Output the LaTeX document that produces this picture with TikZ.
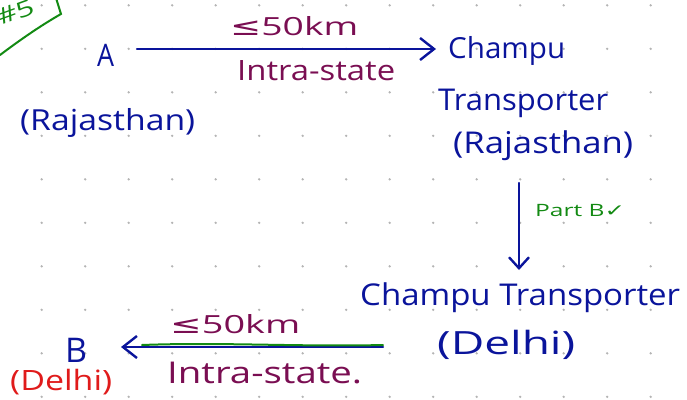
\documentclass[tikz,border=0pt]{standalone}
\usepackage{fontspec}
\setmainfont{Open Sans}
\newfontfamily\symf{DejaVu Sans}
\usetikzlibrary{arrows.meta}
\definecolor{ink}{HTML}{0A149B}
\definecolor{plum}{HTML}{7A0E52}
\definecolor{grn}{HTML}{138A13}
\definecolor{redink}{HTML}{E01B1B}
\definecolor{dotc}{HTML}{B4B4B4}
\newcommand{\hw}[3]{\resizebox{#2pt}{\height}{\fontsize{#1}{#1}\selectfont #3}}
\tikzset{
  lbl/.style={inner sep=0pt, anchor=base west},
  arr/.style={ink, line width=2.4pt, line cap=round, -{Straight Barb[length=14pt,width=22pt,line width=2.4pt]}},
}
\begin{document}
\begin{tikzpicture}[x=1pt,y=-1pt]
\useasboundingbox (0,0) rectangle (687,399);
% dot grid
\foreach \i in {0,...,15} {
  \foreach \j in {0,...,9} {
    \fill[dotc] (41.7+43.5*\i, 5.3+43.5*\j) circle (1.3);
  }
}
% corner tag
\draw[grn, line width=2pt, line cap=round] (0,55) .. controls (20,40) and (40,26) .. (61,14) -- (56,-2);
\node[lbl, grn, rotate=20] (tag) at (0,26) {\hw{22}{38}{\#5}};
% top row
\node[lbl, ink] (A) at (97,66) {\hw{31}{17}{A}};
\node[lbl, ink] (Araj) at (20,130) {\hw{29}{175}{(Rajasthan)}};
\node[lbl, plum] (d1) at (230,35) {\hw{25}{128}{{\symf ≤}50km}};
\node[lbl, plum] (i1) at (237,80) {\hw{28}{158}{Intra-state}};
\node[lbl, ink] (C1) at (448,58) {\hw{29}{117}{Champu}};
\node[lbl, ink] (T1) at (438,110) {\hw{30}{170}{Transporter}};
\node[lbl, ink] (R1) at (453,153) {\hw{30}{180}{(Rajasthan)}};
\coordinate (a1) at (137,49);
\coordinate (a2) at (436,49);
\draw[arr] (a1) -- (a2);
% vertical
\coordinate (v1) at (519,183);
\coordinate (v2) at (519,270);
\draw[arr, -{Straight Barb[length=11pt,width=20pt,line width=2.4pt]}] (v1) -- (v2);
\node[lbl, grn] (pb) at (535,216) {\hw{17}{90}{Part B{\symf ✓}}};
% bottom row
\node[lbl, ink] (C2) at (360,305) {\hw{30}{320}{Champu Transporter}};
\node[lbl, ink] (D2) at (437,354) {\hw{32}{138}{(Delhi)}};
\coordinate (b1) at (383,347);
\coordinate (b2) at (121,347);
\draw[arr] (b1) -- (b2);
\draw[grn, line width=2pt, line cap=round] (142,345) .. controls (220,342) and (300,347) .. (383,345);
\node[lbl, plum] (d2) at (170,333) {\hw{25}{130}{{\symf ≤}50km}};
\node[lbl, plum] (i2) at (167,383) {\hw{30}{195}{Intra-state.}};
\node[lbl, ink] (B) at (65,362) {\hw{34}{22}{B}};
\node[lbl, redink] (Bd) at (10,390) {\hw{28}{102}{(Delhi)}};
\end{tikzpicture}
\end{document}
